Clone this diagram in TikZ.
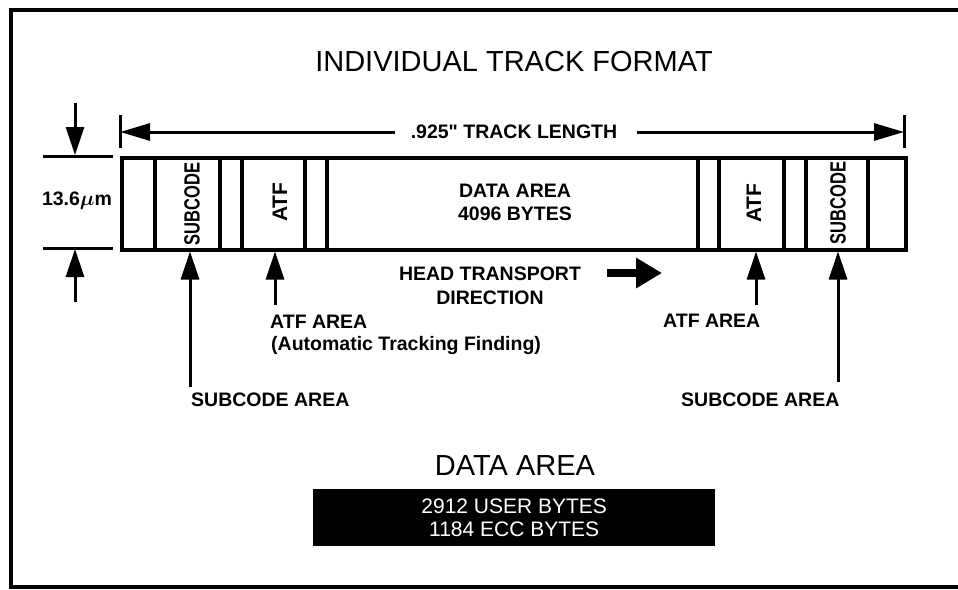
\documentclass[tikz,border=0pt]{standalone}
\usepackage{fontspec}
\setmainfont{Liberation Sans}
\usetikzlibrary{arrows.meta}
\begin{document}
\begin{tikzpicture}[x=1pt,y=-1pt,
  lbl/.style={font=\fontsize{19.5}{24}\selectfont\bfseries, inner sep=0pt},
  ttl/.style={font=\fontsize{29}{32}\selectfont, inner sep=0pt},
  vtext/.style={font=\fontsize{22}{24}\selectfont\bfseries, inner sep=0pt, rotate=90},
  bigtip/.style={-{Triangle[length=28pt,width=18pt]}, line width=3pt},
  dimtip/.style={-{Triangle[length=30pt,width=17pt]}, line width=3pt},
  thin/.style={line width=3pt},
  cellline/.style={line width=3.5pt}]
\useasboundingbox (0,0) rectangle (958,589);
% frame
\draw[line width=4pt] (958,10) -- (10.5,10) -- (10.5,587) -- (958,587);

% title
\node[ttl] (title) at (514,62) {INDIVIDUAL TRACK FORMAT};

% track
\node[draw, cellline, anchor=north west, inner sep=0pt, minimum width=784pt, minimum height=92pt] (track) at (120,156) {};
\foreach \x in {155,220,242,305,327,698,719,784,806,868}
  \draw[cellline] (\x,156) -- (\x,248);

% cell texts
\node[vtext] (subLtxt) at (192,204) {\scalebox{0.75}[1]{SUBCODE}};
\node[vtext, font=\fontsize{21}{24}\selectfont\bfseries] (atfLtxt) at (280,202) {ATF};
\node[vtext, font=\fontsize{21}{24}\selectfont\bfseries] (atfRtxt) at (754,203) {ATF};
\node[vtext] (subRtxt) at (838,203) {\scalebox{0.75}[1]{SUBCODE}};
\node[lbl, align=center, font=\fontsize{19.5}{23}\selectfont\bfseries] (datatxt) at (515,202) {DATA AREA\\4096 BYTES};

% track length dimension
\coordinate (tl1) at (120,115);
\coordinate (tl2) at (120,148);
\coordinate (tr1) at (904,115);
\coordinate (tr2) at (904,148);
\draw[thin] (tl1) -- (tl2);
\draw[thin] (tr1) -- (tr2);
\node[lbl] (tlen) at (514,132) {.925\textquotedbl{} TRACK LENGTH};
\coordinate (tlA) at (395,132);
\coordinate (tlB) at (120,132);
\coordinate (trA) at (637,132);
\coordinate (trB) at (904,132);
\draw[dimtip] (tlA) -- (tlB);
\draw[dimtip] (trA) -- (trB);

% height dimension
\draw[thin] (43,156) -- (113,156);
\draw[thin] (43,248) -- (113,248);
\coordinate (hTop) at (75,103);
\coordinate (hTopE) at (75,155);
\coordinate (hBot) at (75,302);
\coordinate (hBotE) at (75,249);
\draw[bigtip] (hTop) -- (hTopE);
\draw[bigtip] (hBot) -- (hBotE);
\node[lbl] (height) at (77,201) {13.6{\boldmath$\mu$}m};

% head transport
\node[lbl, align=center] (head) at (490,285.5) {HEAD TRANSPORT\\DIRECTION};
\coordinate (hdA) at (607,273);
\coordinate (hdB) at (662,273);
\draw[-{Triangle[length=26pt,width=29pt]}, line width=8pt] (hdA) -- (hdB);

% pointer arrows
\coordinate (pSubL) at (190,387);
\coordinate (pAtfL) at (275,305);
\coordinate (pAtfR) at (756,305);
\coordinate (pSubR) at (838,382);
\draw[bigtip] (pSubL) -- (pSubL |- track.south);
\draw[bigtip] (pAtfL) -- (pAtfL |- track.south);
\draw[bigtip] (pAtfR) -- (pAtfR |- track.south);
\draw[bigtip] (pSubR) -- (pSubR |- track.south);

% labels
\node[lbl, anchor=west] (atfLlbl) at (270,322) {ATF AREA};
\node[lbl, anchor=west] (atfLsub) at (271,345) {(Automatic Tracking Finding)};
\node[lbl, anchor=west] (subLlbl) at (191,400) {SUBCODE AREA};
\node[lbl, anchor=west] (atfRlbl) at (663,321) {ATF AREA};
\node[lbl, anchor=west] (subRlbl) at (681,400) {SUBCODE AREA};

% data area
\node[ttl] (dataTitle) at (515,466) {DATA AREA};
\node[fill=black, text=white, anchor=north west, inner sep=0pt, minimum width=402pt, minimum height=57pt, align=center, font=\fontsize{21}{23}\selectfont] (dataBox) at (313,489) {2912 USER BYTES\\1184 ECC BYTES};
\end{tikzpicture}
\end{document}
